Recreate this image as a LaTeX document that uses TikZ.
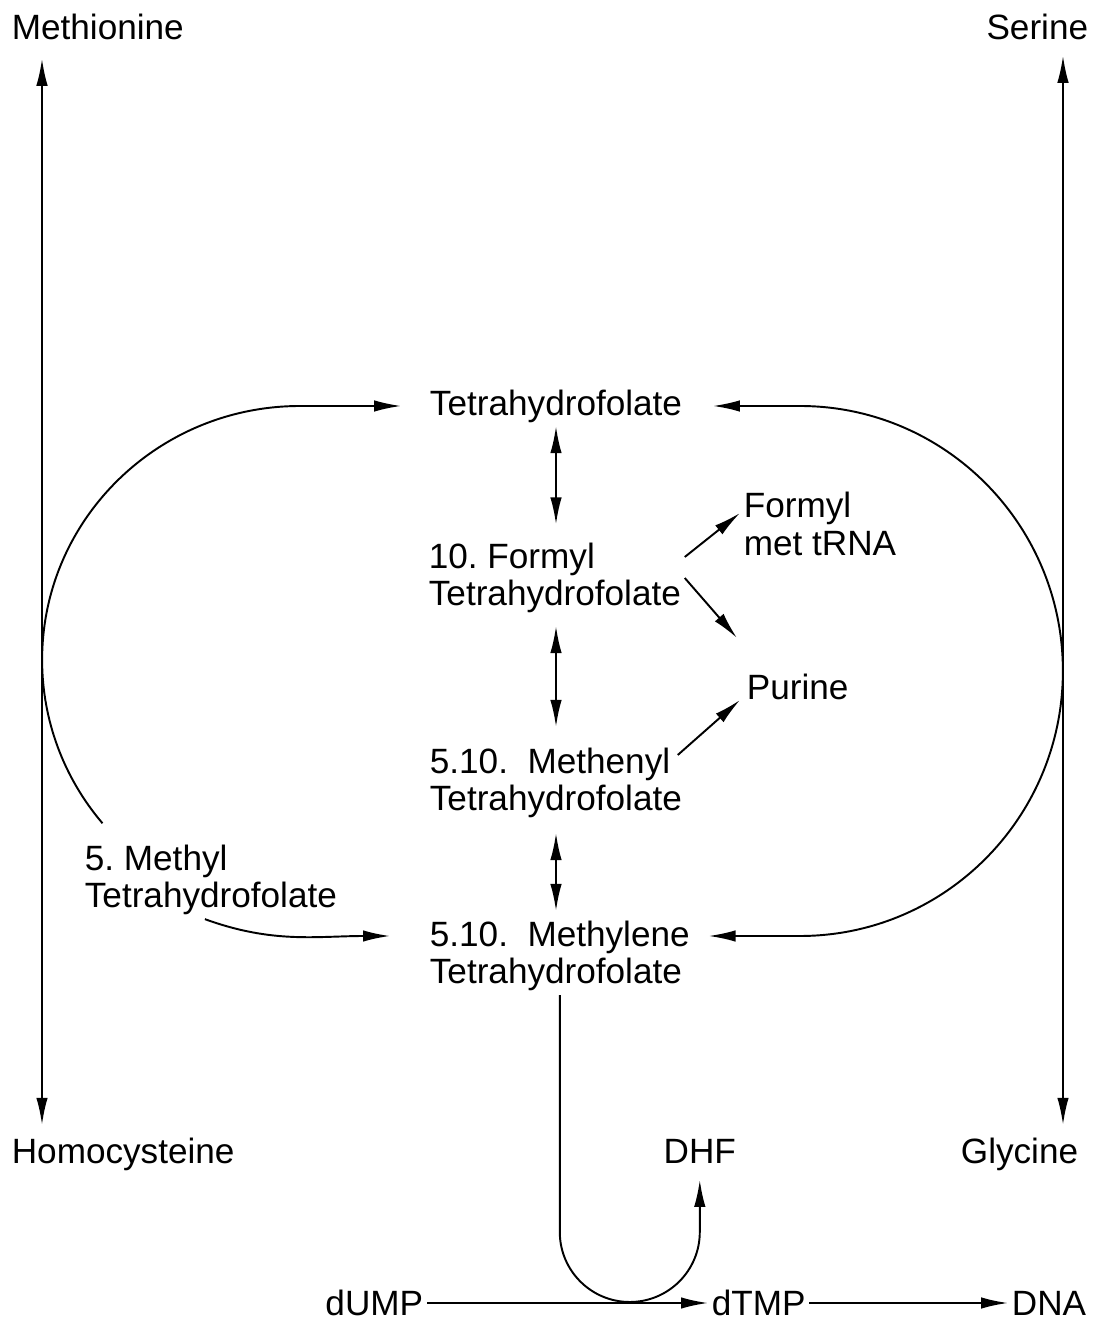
\documentclass[tikz,border=0pt]{standalone}
\usepackage{fontspec}
\setmainfont{Liberation Sans}
\frenchspacing
\usetikzlibrary{arrows.meta}

\begin{document}
\begin{tikzpicture}[
    % Metabolite labels
    metab/.style={font={\fontsize{20}{21.5}\selectfont}, inner sep=2pt, align=left},
    % Reaction arrows
    rxn/.style={line width=1.1pt, -{Latex[length=5.4mm, width=2.3mm]}},
    revrxn/.style={line width=1.1pt, {Latex[length=5.4mm, width=2.3mm]}-},
    bothrxn/.style={line width=1.1pt, {Latex[length=5.4mm, width=2.3mm]}-{Latex[length=5.4mm, width=2.3mm]}},
]
\useasboundingbox (0, 0) rectangle (22.06, 26.46);

% === AMINO ACIDS (corners) ===
\node[metab, anchor=west] (met) at (0.16, 25.92) {Methionine};
\node[metab, anchor=east] (ser) at (21.84, 25.92) {Serine};
\node[metab, anchor=west] (homo) at (0.16, 3.38) {Homocysteine};
\node[metab, anchor=east] (gly) at (21.64, 3.38) {Glycine};

% Axis positions
\coordinate (lx) at (0.84, 0);
\coordinate (rx) at (21.26, 0);
\coordinate (ubend) at (0, 1.82);
\coordinate (dhfrow) at (0, 3.43);

% === FOLATE POOL ===
\node[metab] (thf) at (11.12, 18.34) {Tetrahydrofolate};
\node[metab, anchor=west] (formyl) at (8.5, 14.9) {10. Formyl\\Tetrahydrofolate};
\node[metab, anchor=west] (methenyl) at (8.52, 10.8) {5.10.~ Methenyl\\Tetrahydrofolate};
\node[metab, anchor=west] (methylene) at (8.52, 7.34) {5.10.~ Methylene\\Tetrahydrofolate};
\node[metab, anchor=west] (methyl) at (1.62, 8.86) {5. Methyl\\Tetrahydrofolate};

% Products
\node[metab, anchor=west] (fmet) at (14.8, 15.98) {Formyl\\met tRNA};
\node[metab, anchor=west] (purine) at (14.86, 12.72) {Purine};
\node[metab] (dhf) at ([xshift=2.8cm]methylene.south |- dhfrow) {DHF};

% === NUCLEOTIDES ===
\node[metab, anchor=east] (dump) at (8.54, 0.4) {dUMP};
\node[metab, anchor=west] (dtmp) at (14.16, 0.4) {dTMP};
\node[metab, anchor=east] (dna) at (21.8, 0.4) {DNA};

% === ARROWS ===
% Amino acid axes
\draw[bothrxn] ([yshift=-0.3cm]met.south -| lx) -- ([yshift=0.18cm]homo.north -| lx);
\draw[bothrxn] ([yshift=-0.24cm]ser.south -| rx) -- ([yshift=0.18cm]gly.north -| rx);

% Interconversions
\draw[bothrxn] (thf.south) -- ([yshift=0.29cm]thf.south |- formyl.north);
\draw[bothrxn] ([yshift=-0.18cm]thf.south |- formyl.south) -- ([yshift=0.34cm]thf.south |- methenyl.north);
\draw[bothrxn] ([yshift=-0.22cm]thf.south |- methenyl.south) -- ([yshift=0.12cm]thf.south |- methylene.north);

% Left and right loops
\draw[revrxn] ([xshift=-0.5cm]thf.west) -- ++(-2.02, 0)
    arc[start angle=90, end angle=220, x radius=5.16, y radius=5.08];
\draw[bothrxn] ([xshift=0.54cm]thf.east) -- ++(1.74, 0)
    arc[start angle=90, end angle=-90, x radius=5.26, y radius=5.3]
    -- ([shift={(0.3, 0.4)}]methylene.east);
\draw[rxn] ([xshift=-0.12cm]methyl.south) to[out=-20, in=180] ([shift={(-0.72, 0.4)}]methylene.west);

% Side products
\draw[rxn] ([yshift=0.42cm]formyl.east) -- ([yshift=0.22cm]fmet.west);
\draw[rxn] (formyl.east) -- ([shift={(-0.12, 0.98)}]purine.west);
\draw[rxn] ([shift={(-0.16, 0.56)}]methenyl.east) -- ([shift={(-0.06, -0.26)}]purine.west);

% Thymidylate synthesis
\draw[rxn] (methylene.south) -- (methylene.south |- ubend)
    arc[start angle=180, end angle=360, radius=1.4] -- ([yshift=-0.25cm]dhf.south);
\draw[rxn] (dump) -- (dtmp);
\draw[rxn] (dtmp) -- (dna);

\end{tikzpicture}
\end{document}
